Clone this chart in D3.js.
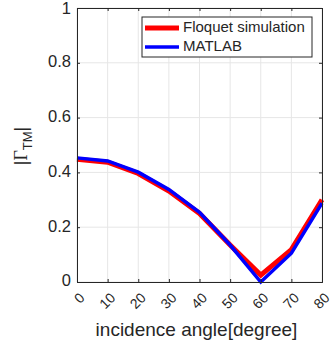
<!DOCTYPE html>
<html>
<head>
<meta charset="utf-8">
<script src="https://cdn.jsdelivr.net/npm/d3@7"></script>
<style>
  body { margin: 0; background: #fff; }
  text { font-family: "Liberation Sans", Arial, sans-serif; fill: #262626; }
</style>
</head>
<body>
<div id="my_dataviz"></div>
<script>
// data
var angles = [0, 10, 20, 30, 40, 50, 60, 70, 80];
var floquet = [0.448, 0.437, 0.396, 0.332, 0.250, 0.135, 0.025, 0.118, 0.300];
var matlab = [0.453, 0.442, 0.401, 0.338, 0.254, 0.135, 0.000, 0.105, 0.288];
var xTicks = [0, 10, 20, 30, 40, 50, 60, 70, 80];
var yTicks = [0, 0.2, 0.4, 0.6, 0.8, 1];
var seriesNames = ["Floquet simulation", "MATLAB"];
var seriesColors = ["#ff0000", "#0000ff"];

// set the dimensions and margins of the graph
var margin = {top: 8, right: 10, bottom: 66, left: 77},
    width = 332 - margin.left - margin.right,
    height = 348 - margin.top - margin.bottom;

var svg = d3.select("#my_dataviz")
  .append("svg")
    .attr("width", 332)
    .attr("height", 348)
  .append("g")
    .attr("transform", "translate(" + margin.left + "," + margin.top + ")");

var x = d3.scaleLinear().domain([0, 80]).range([0, width]);
var y = d3.scaleLinear().domain([0, 1]).range([height, 0]);

// grid
svg.append("g")
  .selectAll("line")
  .data(xTicks)
  .enter()
  .append("line")
    .attr("x1", function(d) { return x(d); })
    .attr("x2", function(d) { return x(d); })
    .attr("y1", 0)
    .attr("y2", height)
    .attr("stroke", "#e6e6e6")
    .attr("stroke-width", 1);
svg.append("g")
  .selectAll("line")
  .data(yTicks)
  .enter()
  .append("line")
    .attr("x1", 0)
    .attr("x2", width)
    .attr("y1", function(d) { return y(d); })
    .attr("y2", function(d) { return y(d); })
    .attr("stroke", "#e6e6e6")
    .attr("stroke-width", 1);

// lines
var line = function(vals) {
  return d3.line()
    .x(function(d, i) { return x(angles[i]); })
    .y(function(d) { return y(d); })(vals);
};
svg.append("path")
  .attr("d", line(floquet))
  .attr("fill", "none")
  .attr("stroke", seriesColors[0])
  .attr("stroke-width", 5);
svg.append("path")
  .attr("d", line(matlab))
  .attr("fill", "none")
  .attr("stroke", seriesColors[1])
  .attr("stroke-width", 3.5);

// axes
svg.append("g")
  .attr("transform", "translate(0," + height + ")")
  .call(d3.axisBottom(x).tickValues(xTicks).tickSize(-3).tickFormat(""));
svg.append("g")
  .call(d3.axisTop(x).tickValues(xTicks).tickSize(-3).tickFormat(""));
svg.append("g")
  .call(d3.axisLeft(y).tickValues(yTicks).tickSize(-3).tickFormat(""));
svg.append("g")
  .attr("transform", "translate(" + width + ",0)")
  .call(d3.axisRight(y).tickValues(yTicks).tickSize(-3).tickFormat(""));
svg.selectAll(".domain").attr("stroke", "#262626");
svg.selectAll(".tick line").attr("stroke", "#262626");

// x tick labels, rotated
svg.append("g")
  .selectAll("text")
  .data(xTicks)
  .enter()
  .append("text")
    .attr("transform", function(d) { return "translate(" + (x(d) + 6) + "," + (height + 14) + ") rotate(-45)"; })
    .attr("text-anchor", "end")
    .attr("dominant-baseline", "middle")
    .style("font-size", "14px")
    .text(function(d) { return d; });

// y tick labels
svg.append("g")
  .selectAll("text")
  .data(yTicks)
  .enter()
  .append("text")
    .attr("x", -6)
    .attr("y", function(d) { return d == 1 ? y(d) + 2 : y(d); })
    .attr("text-anchor", "end")
    .attr("dominant-baseline", "middle")
    .style("font-size", "16.5px")
    .text(function(d) { return d; });

// x axis label
svg.append("text")
  .attr("x", width / 2 - 3)
  .attr("y", height + 54)
  .attr("text-anchor", "middle")
  .style("font-size", "19px")
  .text("incidence angle[degree]");

// y axis label
var yl = svg.append("text")
  .attr("transform", "translate(" + (-50) + "," + (y(0.5) + 1) + ") rotate(-90)")
  .attr("text-anchor", "middle")
  .style("font-size", "18px");
yl.append("tspan").text("|");
yl.append("tspan").style("font-family", "'Liberation Serif', serif").text("\u0393");
yl.append("tspan").attr("dy", 5).style("font-size", "13px").text("TM");
yl.append("tspan").attr("dy", -5).text("|");

// legend
var lg = svg.append("g").attr("transform", "translate(65,9)");
lg.append("rect")
  .attr("width", 170)
  .attr("height", 40)
  .attr("fill", "#fff")
  .attr("stroke", "#262626")
  .attr("stroke-width", 1);
lg.selectAll("line")
  .data(seriesNames)
  .enter()
  .append("line")
    .attr("x1", 3)
    .attr("x2", 37)
    .attr("y1", function(d, i) { return 11 + i * 19; })
    .attr("y2", function(d, i) { return 11 + i * 19; })
    .attr("stroke", function(d, i) { return seriesColors[i]; })
    .attr("stroke-width", function(d, i) { return i == 0 ? 5 : 3.5; });
lg.selectAll("text")
  .data(seriesNames)
  .enter()
  .append("text")
    .attr("x", 41)
    .attr("y", function(d, i) { return 11 + i * 19; })
    .attr("dominant-baseline", "middle")
    .style("font-size", "15px")
    .text(function(d) { return d; });
</script>
</body>
</html>
